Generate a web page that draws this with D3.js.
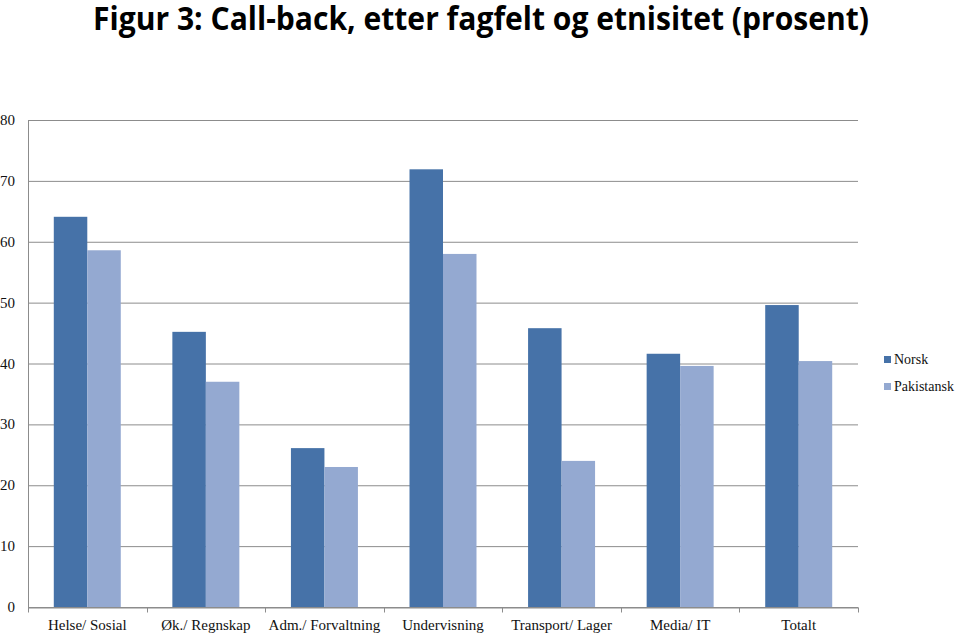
<!DOCTYPE html>
<html>
<head>
<meta charset="utf-8">
<script src="https://cdn.jsdelivr.net/npm/d3@7"></script>
<style>
  body { margin: 0; background: #fff; }
  svg { display: block; }
</style>
</head>
<body>
<div id="chart"></div>
<script>
var categories = ["Helse/ Sosial", "Øk./ Regnskap", "Adm./ Forvaltning", "Undervisning", "Transport/ Lager", "Media/ IT", "Totalt"];
var seriesNames = ["Norsk", "Pakistansk"];
var norsk = [64.1, 45.2, 26.1, 71.9, 45.8, 41.6, 49.6];
var pakistansk = [58.6, 37.0, 23.0, 58.0, 24.0, 39.6, 40.4];
var yTicks = [0, 10, 20, 30, 40, 50, 60, 70, 80];
var colors = ["#4672a8", "#94a9d1"];

var W = 960, H = 634;
var plot = {left: 28, right: 858, top: 120, bottom: 607};

var svg = d3.select("#chart").append("svg")
  .attr("width", W)
  .attr("height", H);

// Title
svg.append("text")
  .attr("x", 481)
  .attr("y", 30)
  .attr("text-anchor", "middle")
  .attr("font-family", "'Open Sans', sans-serif")
  .attr("font-weight", "bold")
  .attr("font-size", 33)
  .attr("textLength", 776)
  .attr("lengthAdjust", "spacingAndGlyphs")
  .text("Figur 3: Call-back, etter fagfelt og etnisitet (prosent)");

var x = d3.scaleBand()
  .domain(categories)
  .range([plot.left, plot.right])
  .paddingInner(0)
  .paddingOuter(0);

// two bars side by side in the middle of each category
var x1 = d3.scaleBand()
  .domain(seriesNames)
  .range([0, x.bandwidth()])
  .paddingInner(0)
  .paddingOuter(0.77);

var y = d3.scaleLinear()
  .domain([0, 80])
  .range([plot.bottom, plot.top]);

// Gridlines
svg.append("g")
  .selectAll("line")
  .data(yTicks)
  .enter()
  .append("line")
  .attr("x1", plot.left)
  .attr("x2", plot.right)
  .attr("y1", function(d) { return y(d) + 0.5; })
  .attr("y2", function(d) { return y(d) + 0.5; })
  .attr("stroke", "#8c8c8c")
  .attr("stroke-width", 1);

// Y tick labels
svg.append("g")
  .selectAll("text")
  .data(yTicks)
  .enter()
  .append("text")
  .attr("x", 15)
  .attr("y", function(d) { return y(d) + 5; })
  .attr("text-anchor", "end")
  .attr("font-family", "'Liberation Serif', serif")
  .attr("font-size", 15)
  .attr("fill", "#111")
  .text(function(d) { return d; });

// Bars
var rows = categories.map(function(c, i) {
  return {cat: c, values: [norsk[i], pakistansk[i]]};
});

var groups = svg.append("g")
  .selectAll("g")
  .data(rows)
  .enter()
  .append("g")
  .attr("transform", function(d) { return "translate(" + x(d.cat) + ",0)"; });

groups.selectAll("rect")
  .data(function(d) {
    return d.values.map(function(v, j) { return {name: seriesNames[j], value: v, j: j}; });
  })
  .enter()
  .append("rect")
  .attr("x", function(d) { return x1(d.name); })
  .attr("width", x1.bandwidth())
  .attr("y", function(d) { return y(d.value); })
  .attr("height", function(d) { return y(0) - y(d.value); })
  .attr("fill", function(d) { return colors[d.j]; });

// Axes lines
svg.append("line")
  .attr("x1", plot.left + 0.5).attr("x2", plot.left + 0.5)
  .attr("y1", plot.top).attr("y2", plot.bottom)
  .attr("stroke", "#8c8c8c");

var xAxis = d3.axisBottom(x).tickSize(0).tickFormat("");
var gx = svg.append("g")
  .attr("transform", "translate(0," + (plot.bottom + 0.5) + ")")
  .call(xAxis);
gx.select(".domain").attr("stroke", "#8c8c8c");

// Category boundary ticks
var bounds = categories.map(function(c) { return x(c); }).concat([plot.right]);
gx.selectAll(".bound")
  .data(bounds)
  .enter()
  .append("line")
  .attr("class", "bound")
  .attr("x1", function(d) { return Math.round(d) + 0.5; })
  .attr("x2", function(d) { return Math.round(d) + 0.5; })
  .attr("y1", 0)
  .attr("y2", 5)
  .attr("stroke", "#8c8c8c");

// Category labels
svg.append("g")
  .selectAll("text")
  .data(categories)
  .enter()
  .append("text")
  .attr("x", function(d) { return x(d) + x.bandwidth() / 2; })
  .attr("y", 630)
  .attr("text-anchor", "middle")
  .attr("font-family", "'Liberation Serif', serif")
  .attr("font-size", 15)
  .attr("fill", "#111")
  .text(function(d) { return d; });

// Legend
var legend = svg.append("g")
  .selectAll("g")
  .data(seriesNames)
  .enter()
  .append("g")
  .attr("transform", function(d, i) { return "translate(884," + (356 + i * 27) + ")"; });

legend.append("rect")
  .attr("width", 7)
  .attr("height", 7)
  .attr("fill", function(d, i) { return colors[i]; });

legend.append("text")
  .attr("x", 10)
  .attr("y", 8)
  .attr("font-family", "'Liberation Serif', serif")
  .attr("font-size", 14)
  .attr("fill", "#111")
  .text(function(d) { return d; });
</script>
</body>
</html>
